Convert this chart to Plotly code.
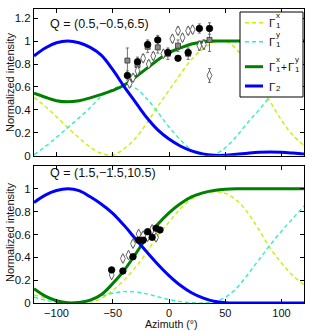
import plotly.graph_objects as go

# ---------------- data ----------------
angle = [-120, -110, -100, -90, -80, -70, -60, -50, -40, -30, -20, -10, 0,
         10, 20, 30, 40, 50, 60, 70, 80, 90, 100, 110, 120]

# top panel Q = (0.5,-0.5,6.5)
top_g1x = [0.51, 0.43, 0.34, 0.245, 0.155, 0.075, 0.02, 0.005, 0.06, 0.15, 0.28, 0.43, 0.57,
           0.71, 0.84, 0.93, 0.99, 1.0, 0.93, 0.79, 0.63, 0.47, 0.31, 0.18, 0.09]
top_g1y = [0.01, 0.08, 0.16, 0.245, 0.33, 0.42, 0.52, 0.58, 0.615, 0.59, 0.5, 0.38, 0.25,
           0.14, 0.05, 0.005, 0.01, 0.07, 0.17, 0.29, 0.4, 0.52, 0.64, 0.77, 0.9]
top_sum = [0.545, 0.51, 0.48, 0.47, 0.48, 0.505, 0.535, 0.57, 0.615, 0.685, 0.76, 0.835, 0.9,
           0.94, 0.975, 0.993, 1.0, 1.0, 1.0, 1.0, 1.0, 1.0, 1.0, 1.0, 1.0]
top_g2 = [0.87, 0.94, 0.985, 1.0, 0.985, 0.945, 0.875, 0.75, 0.605, 0.47, 0.335, 0.225, 0.145,
          0.085, 0.042, 0.016, 0.004, 0.004, 0.012, 0.022, 0.03, 0.033, 0.03, 0.023, 0.015]

top_circ_x = [-37, -28, -19, -10, -1, 8, 17, 27, 36]
top_circ_y = [0.70, 0.82, 0.97, 1.01, 0.90, 0.85, 0.90, 1.11, 1.11]
top_circ_e = [0.04, 0.04, 0.04, 0.04, 0.03, 0.02, 0.03, 0.04, 0.05]

top_sq_x = [-37, -28, -19, -10, -1, 8, 17, 36]
top_sq_y = [0.83, 0.79, 0.95, 0.945, 0.89, 0.96, 0.89, 1.01]
top_sq_e = [0.11, 0.05, 0.05, 0.05, 0.05, 0.05, 0.05, 0.10]

top_dia_x = [-35, -32, -28, -23, -18, -14, -5, 3, 8, 12, 17, 21, 27, 31, 36]
top_dia_y = [0.63, 0.68, 0.74, 0.85, 0.80, 0.87, 0.89, 1.02, 1.09, 1.03, 1.09, 1.10, 0.96, 0.97, 0.70]
top_dia_e = [0.03, 0.03, 0.03, 0.03, 0.03, 0.03, 0.03, 0.03, 0.03, 0.03, 0.03, 0.03, 0.04, 0.04, 0.06]

# bottom panel Q = (1.5,-1.5,10.5)
bot_g1x = [0.07, 0.045, 0.02, 0.005, 0.0, 0.008, 0.04, 0.11, 0.2, 0.31, 0.44, 0.59, 0.71,
           0.825, 0.91, 0.955, 0.975, 0.96, 0.9, 0.79, 0.64, 0.48, 0.35, 0.24, 0.16]
bot_g1y = [0.05, 0.025, 0.007, 0.0, 0.01, 0.03, 0.06, 0.085, 0.1, 0.097, 0.08, 0.055, 0.03,
           0.012, 0.002, 0.0, 0.012, 0.05, 0.13, 0.25, 0.38, 0.51, 0.63, 0.74, 0.85]
bot_sum = [0.125, 0.06, 0.02, 0.002, 0.005, 0.025, 0.075, 0.17, 0.285, 0.425, 0.57, 0.69, 0.79,
           0.87, 0.93, 0.965, 0.985, 0.996, 1.0, 1.0, 1.0, 1.0, 1.0, 1.0, 1.0]
bot_g2 = [0.88, 0.945, 0.985, 1.0, 0.985, 0.93, 0.865, 0.785, 0.68, 0.565, 0.45, 0.34, 0.24,
          0.155, 0.09, 0.045, 0.015, 0.003, 0.0, 0.0, 0.0, 0.0, 0.0, 0.0, 0.0]

bot_circ_x = [-51, -41, -32, -27, -23, -19, -15, -11.5, -8]
bot_circ_y = [0.29, 0.28, 0.405, 0.55, 0.55, 0.625, 0.575, 0.655, 0.64]
bot_circ_e = [0.02] * 9

bot_dia_x = [-51, -41, -36, -32, -27, -23, -19, -15, -11.5]
bot_dia_y = [0.245, 0.39, 0.42, 0.52, 0.605, 0.59, 0.58, 0.645, 0.575]
bot_dia_e = [0.025] * 9

x_tickvals = [-100, -50, 0, 50, 100]
x_ticktext = ["\u2212100", "\u221250", "0", "50", "100"]
y_tickvals_top = [0, 0.2, 0.4, 0.6, 0.8, 1.0, 1.2]
y_ticktext_top = ["0", "0.2", "0.4", "0.6", "0.8", "1", "1.2"]
y_tickvals_bot = [0, 0.2, 0.4, 0.6, 0.8, 1.0, 1.2]
y_ticktext_bot = ["0", "0.2", "0.4", "0.6", "0.8", "1", ""]

title_top = "Q = (0.5,\u22120.5,6.5)"
title_bot = "Q = (1.5,\u22121.5,10.5)"

# ---------------- styles ----------------
C_X = "#c8f000"
C_Y = "#2af0c8"
C_SUM = "#008000"
C_G2 = "#0000ff"
FONT = "Liberation Sans, Arial, sans-serif"
DASH = "4px,3px"

W, H = 310, 331
ML, MR, MT, MB = 34, 6, 9, 28
PW = W - ML - MR
PH = H - MT - MB


def px2x(px):
    return (px - ML) / PW


def py2y(py):
    return (H - MB - py) / PH


fig = go.Figure()


def add_curves(xa, ya):
    fig.add_trace(go.Scatter(x=angle, y=top_g1x if ya == "y" else bot_g1x, mode="lines",
                             line=dict(color=C_X, width=1.4, dash=DASH, shape="spline"),
                             xaxis=xa, yaxis=ya, showlegend=False, hoverinfo="skip"))
    fig.add_trace(go.Scatter(x=angle, y=top_g1y if ya == "y" else bot_g1y, mode="lines",
                             line=dict(color=C_Y, width=1.4, dash=DASH, shape="spline"),
                             xaxis=xa, yaxis=ya, showlegend=False, hoverinfo="skip"))
    fig.add_trace(go.Scatter(x=angle, y=top_sum if ya == "y" else bot_sum, mode="lines",
                             line=dict(color=C_SUM, width=3, shape="spline"),
                             xaxis=xa, yaxis=ya, showlegend=False, hoverinfo="skip"))
    fig.add_trace(go.Scatter(x=angle, y=top_g2 if ya == "y" else bot_g2, mode="lines",
                             line=dict(color=C_G2, width=3, shape="spline"),
                             xaxis=xa, yaxis=ya, showlegend=False, hoverinfo="skip"))


def add_points(x, y, e, xa, ya, symbol, fill, size, lc):
    fig.add_trace(go.Scatter(
        x=x, y=y, mode="markers", xaxis=xa, yaxis=ya, showlegend=False,
        marker=dict(symbol=symbol, color=fill, size=size, line=dict(color=lc, width=0.8)),
        error_y=dict(type="data", array=e, color="#707070", thickness=1, width=1.5)))


add_curves("x", "y")
add_points(top_sq_x, top_sq_y, top_sq_e, "x", "y", "square", "#8a8a8a", 5, "#333333")
add_points(top_dia_x, top_dia_y, top_dia_e, "x", "y", "diamond-tall", "white", 7, "#444444")
add_points(top_circ_x, top_circ_y, top_circ_e, "x", "y", "circle", "black", 6.5, "black")

add_curves("x2", "y2")
add_points(bot_dia_x, bot_dia_y, bot_dia_e, "x2", "y2", "diamond-tall", "white", 7, "#444444")
add_points(bot_circ_x, bot_circ_y, bot_circ_e, "x2", "y2", "circle", "black", 6.5, "black")

axis_common = dict(showline=True, linecolor="black", linewidth=1, mirror="ticks",
                   ticks="inside", ticklen=4, tickcolor="black", showgrid=False,
                   zeroline=False)
yfont = dict(family=FONT, size=11.5, color="#111")
xfont = dict(family=FONT, size=11, color="#111")

top_dom = [py2y(155.7), 1.0]
bot_dom = [0.0, py2y(166)]

fig.update_layout(
    width=W, height=H, margin=dict(l=ML, r=MR, t=MT, b=MB),
    paper_bgcolor="white", plot_bgcolor="white", showlegend=False,
    xaxis=dict(domain=[0, 1], range=[-120, 120], tickvals=x_tickvals, ticktext=x_ticktext,
               showticklabels=False, anchor="y", tickfont=xfont, **axis_common),
    yaxis=dict(domain=top_dom, range=[0, 1.28], tickvals=y_tickvals_top,
               ticktext=y_ticktext_top, anchor="x", tickfont=yfont, **axis_common),
    xaxis2=dict(domain=[0, 1], range=[-120, 120], tickvals=x_tickvals, ticktext=x_ticktext,
                anchor="y2", tickfont=xfont, **axis_common),
    yaxis2=dict(domain=bot_dom, range=[0, 1.2], tickvals=y_tickvals_bot,
                ticktext=y_ticktext_bot, anchor="x2", tickfont=yfont, **axis_common),
)

ann = []
shapes = []
txt = dict(family=FONT, color="#111")

# panel titles
ann.append(dict(text=title_top, x=px2x(48), y=py2y(24), xref="paper", yref="paper",
                xanchor="left", yanchor="middle", showarrow=False, font=dict(size=12.5, **txt)))
ann.append(dict(text=title_bot, x=px2x(48), y=py2y(173), xref="paper", yref="paper",
                xanchor="left", yanchor="middle", showarrow=False, font=dict(size=12.5, **txt)))
# axis titles
for yc in (82, 232):
    ann.append(dict(text="Normalized intensity", x=px2x(10), y=py2y(yc), xref="paper",
                    yref="paper", xanchor="center", yanchor="middle", textangle=-90,
                    showarrow=False, font=dict(size=11, **txt)))
ann.append(dict(text="Azimuth (\u00b0)", x=px2x(171), y=py2y(323.5), xref="paper", yref="paper",
                xanchor="center", yanchor="middle", showarrow=False, font=dict(size=10.6, **txt)))

# manual legend
shapes.append(dict(type="rect", xref="paper", yref="paper", x0=px2x(240), x1=px2x(303),
                   y0=py2y(97), y1=py2y(12), fillcolor="white",
                   line=dict(color="black", width=1), layer="above"))
entries = [
    (22.7, C_X, 1.4, DASH, [("Γ", 0), ("x", 1), ("1", 2)]),
    (41.7, C_Y, 1.4, DASH, [("Γ", 0), ("y", 1), ("1", 2)]),
    (66.7, C_SUM, 3, "solid", [("Γ", 0), ("x", 1), ("1", 2), ("+", 3), ("Γ", 4), ("y", 5), ("1", 6)]),
    (86.0, C_G2, 3, "solid", [("Γ", 0), ("2", 2)]),
]
for yc, col, lw, dash, parts in entries:
    shapes.append(dict(type="line", xref="paper", yref="paper", x0=px2x(245), x1=px2x(263),
                       y0=py2y(yc), y1=py2y(yc), line=dict(color=col, width=lw, dash=dash),
                       layer="above"))
    xpos = {0: 266.5, 1: 273.6, 2: 273.6, 3: 278.6, 4: 285.6, 5: 292.7, 6: 292.7}
    for s, k in parts:
        if k in (0, 4):
            ann.append(dict(text=s, x=px2x(xpos[k]), y=py2y(yc + 0.5), xref="paper", yref="paper",
                            xanchor="left", yanchor="middle", showarrow=False,
                            font=dict(size=11.5, **txt)))
        elif k == 3:
            ann.append(dict(text=s, x=px2x(xpos[k]), y=py2y(yc + 0.5), xref="paper", yref="paper",
                            xanchor="left", yanchor="middle", showarrow=False,
                            font=dict(size=10, **txt)))
        elif k in (1, 5):
            ann.append(dict(text=s, x=px2x(xpos[k]), y=py2y(yc - 7), xref="paper", yref="paper",
                            xanchor="left", yanchor="middle", showarrow=False,
                            font=dict(size=8, **txt)))
        else:
            ann.append(dict(text=s, x=px2x(xpos[k]), y=py2y(yc + 3), xref="paper", yref="paper",
                            xanchor="left", yanchor="middle", showarrow=False,
                            font=dict(size=8, **txt)))

fig.update_layout(annotations=ann, shapes=shapes)
fig.write_html("out.html", config={"displayModeBar": False},
               post_script="document.body.style.margin='0';document.body.style.padding='0';")
